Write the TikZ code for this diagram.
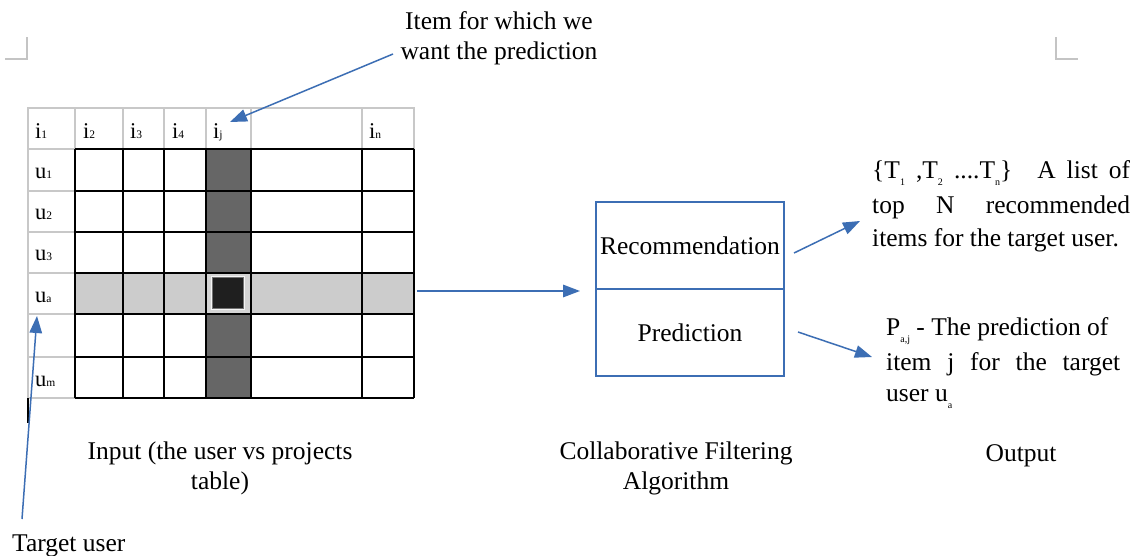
\documentclass[tikz,border=0pt]{standalone}
\usepackage{fontspec}
\setmainfont{Liberation Serif}
\usetikzlibrary{arrows.meta}
\definecolor{arrblue}{HTML}{3C6EB4}
\definecolor{hdrgray}{HTML}{C8C8C8}
\definecolor{markgray}{HTML}{C4C4C4}
\newcommand{\rsub}[1]{\raisebox{-7pt}{\fontsize{10}{10}\selectfont #1}}
\newcommand{\tsub}[1]{\raisebox{-0.5pt}{\fontsize{11.5}{11.5}\selectfont #1}}
\begin{document}
\begin{tikzpicture}[x=1pt,y=-1pt,
  arr/.style={draw=arrblue,line width=1.5pt,-{Triangle[length=17pt,width=12.5pt]}},
  lbl/.style={font=\fontsize{25.5}{30}\selectfont,inner sep=0pt},
  rline/.style={font=\fontsize{25.5}{30}\selectfont,inner sep=0pt,anchor=base west},
  tlbl/.style={font=\fontsize{22.5}{22.5}\selectfont,inner sep=0pt,anchor=base west},
  hdr/.style={draw=hdrgray,line width=1.3pt},
  gridline/.style={draw=black,line width=1.5pt},
  boxpart/.style={draw=arrblue,line width=1.3pt,minimum width=188pt,minimum height=87pt,inner sep=0pt,font=\fontsize{25.5}{30}\selectfont},
  cornermark/.style={draw=markgray,line width=1.5pt}
]
\useasboundingbox[fill=white] (0,0) rectangle (1146,555);

% corner marks
\draw[cornermark] (5,59) -- (27,59) -- (27,37);
\draw[cornermark] (1056,37) -- (1056,59) -- (1078,59);

% table fills
\fill[black!60] (206,149) rectangle (251,398);
\fill[black!20] (75,273) rectangle (414,314);
\fill[black!17] (206,273) rectangle (251,314);
\draw[draw=black!4,line width=3pt] (212,277) rectangle (243,308);
\draw[fill=black!88,draw=black!55,line width=1pt] (212,277) rectangle (243,308);

% header row and first column (light gray)
\draw[hdr] (28,398) -- (28,108) -- (414,108) -- (414,149);
\foreach \x in {75,123,164,206,251,362} \draw[hdr] (\x,108) -- (\x,149);
\foreach \y in {191,232,273,314,357,398} \draw[hdr] (28,\y) -- (75,\y);
\draw[hdr] (28,149) -- (75,149);

% data grid (black)
\foreach \x in {75,123,164,206,251,362,414} \draw[gridline] (\x,149) -- (\x,398);
\foreach \y in {149,191,232,273,314,357,398} \draw[gridline] (75,\y) -- (414,\y);

% cursor mark
\draw[black,line width=2pt] (28,398) -- (28,423);

% header labels
\node[tlbl] (i1) at (35,138) {i\tsub{1}};
\node[tlbl] (i2) at (83,138) {i\tsub{2}};
\node[tlbl] (i3) at (130,138) {i\tsub{3}};
\node[tlbl] (i4) at (172,138) {i\tsub{4}};
\node[tlbl] (ij) at (213,138) {i\tsub{j}};
\node[tlbl] (in) at (369,138) {i\tsub{n}};
\node[tlbl] (u1) at (35,178) {u\tsub{1}};
\node[tlbl] (u2) at (35,219) {u\tsub{2}};
\node[tlbl] (u3) at (35,260) {u\tsub{3}};
\node[tlbl] (ua) at (35,302) {u\tsub{a}};
\node[tlbl] (um) at (35,386) {u\tsub{m}};

% top annotation
\node[lbl,align=center] (item) at (499,38) {Item for which we\\want the prediction};
\coordinate (itemtail) at (393,54);
\coordinate (ijtip) at (230,122);
\draw[arr] (itemtail) -- (ijtip);

% target user
\node[rline] (target) at (12,551) {Target user};
\coordinate (tutail) at (22,519);
\coordinate (tutip) at (37,316);
\draw[arr] (tutail) -- (tutip);

% algorithm box
\node[boxpart] (rec) at (690,245.5) {Recommendation};
\node[boxpart] (pred) at (690,332.5) {Prediction};

% input arrow
\coordinate (intail) at (417,291);
\coordinate (intip) at (580,291);
\draw[arr] (intail) -- (intip);

% output texts
\node[rline] (r1) at (872,178) {\makebox[258pt][s]{\{T\rsub{1} ,T\rsub{2} ....T\rsub{n}\}\hspace{14pt} A list of}};
\node[rline] (r2) at (872,213) {\makebox[258pt][s]{top N recommended}};
\node[rline] (r3) at (872,246) {items for the target user.};
\node[rline] (p1) at (886,335) {P\rsub{a,j} - The prediction of};
\node[rline] (p2) at (886,370) {\makebox[234pt][s]{item j for the target}};
\node[rline] (p3) at (886,401) {user u\rsub{a}};

\coordinate (rectail) at (794,253);
\coordinate (rectip) at (860,221);
\draw[arr] (rectail) -- (rectip);
\coordinate (predtail) at (798,332);
\coordinate (predtip) at (872,357);
\draw[arr] (predtail) -- (predtip);

% bottom labels
\node[lbl,align=center] (inlbl) at (220,468) {Input (the user vs projects\\table)};
\node[lbl,align=center] (alglbl) at (676,468) {Collaborative Filtering\\Algorithm};
\node[lbl] (outlbl) at (1021,456) {Output};
\end{tikzpicture}
\end{document}
